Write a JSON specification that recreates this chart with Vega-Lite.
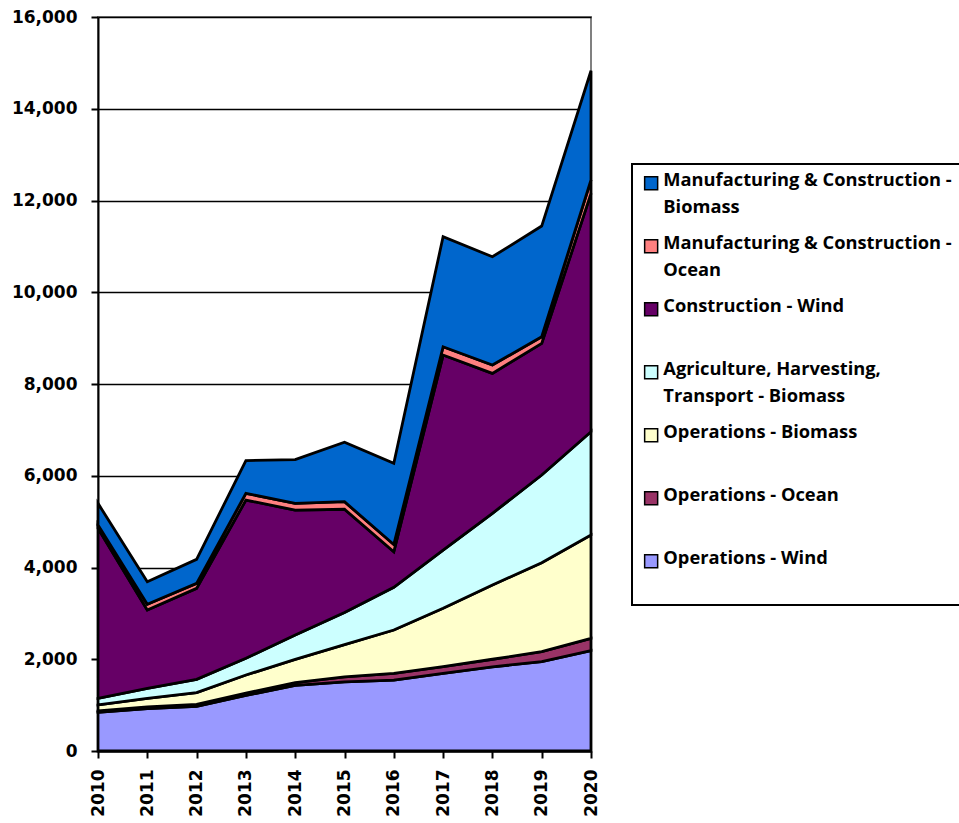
{
  "$schema": "https://vega.github.io/schema/vega-lite/v6.json",
  "autosize": "none",
  "width": 493,
  "height": 734,
  "padding": {"left": 98, "top": 17, "right": 368, "bottom": 72},
  "background": "white",
  "config": {
    "view": {"stroke": "#808080", "strokeWidth": 2},
    "axis": {
      "domainColor": "black", "domainWidth": 2, "tickColor": "black", "tickWidth": 2, "tickSize": 7,
      "gridColor": "black", "gridWidth": 1.5, "gridOpacity": 1,
      "labelFont": "DejaVu Sans", "labelFontWeight": "bold", "labelFontSize": 17, "labelColor": "black"
    }
  },
  "data": {"values": [
    {"year": 2010, "series": "Operations - Wind", "value": 843, "k": 1},
    {"year": 2011, "series": "Operations - Wind", "value": 925, "k": 1},
    {"year": 2012, "series": "Operations - Wind", "value": 975, "k": 1},
    {"year": 2013, "series": "Operations - Wind", "value": 1210, "k": 1},
    {"year": 2014, "series": "Operations - Wind", "value": 1430, "k": 1},
    {"year": 2015, "series": "Operations - Wind", "value": 1505, "k": 1},
    {"year": 2016, "series": "Operations - Wind", "value": 1545, "k": 1},
    {"year": 2017, "series": "Operations - Wind", "value": 1690, "k": 1},
    {"year": 2018, "series": "Operations - Wind", "value": 1835, "k": 1},
    {"year": 2019, "series": "Operations - Wind", "value": 1947, "k": 1},
    {"year": 2020, "series": "Operations - Wind", "value": 2190, "k": 1},
    {"year": 2010, "series": "Operations - Ocean", "value": 30, "k": 2},
    {"year": 2011, "series": "Operations - Ocean", "value": 35, "k": 2},
    {"year": 2012, "series": "Operations - Ocean", "value": 40, "k": 2},
    {"year": 2013, "series": "Operations - Ocean", "value": 50, "k": 2},
    {"year": 2014, "series": "Operations - Ocean", "value": 60, "k": 2},
    {"year": 2015, "series": "Operations - Ocean", "value": 110, "k": 2},
    {"year": 2016, "series": "Operations - Ocean", "value": 148, "k": 2},
    {"year": 2017, "series": "Operations - Ocean", "value": 150, "k": 2},
    {"year": 2018, "series": "Operations - Ocean", "value": 165, "k": 2},
    {"year": 2019, "series": "Operations - Ocean", "value": 218, "k": 2},
    {"year": 2020, "series": "Operations - Ocean", "value": 266, "k": 2},
    {"year": 2010, "series": "Operations - Biomass", "value": 130, "k": 3},
    {"year": 2011, "series": "Operations - Biomass", "value": 188, "k": 3},
    {"year": 2012, "series": "Operations - Biomass", "value": 257, "k": 3},
    {"year": 2013, "series": "Operations - Biomass", "value": 396, "k": 3},
    {"year": 2014, "series": "Operations - Biomass", "value": 508, "k": 3},
    {"year": 2015, "series": "Operations - Biomass", "value": 705, "k": 3},
    {"year": 2016, "series": "Operations - Biomass", "value": 944, "k": 3},
    {"year": 2017, "series": "Operations - Biomass", "value": 1270, "k": 3},
    {"year": 2018, "series": "Operations - Biomass", "value": 1618, "k": 3},
    {"year": 2019, "series": "Operations - Biomass", "value": 1940, "k": 3},
    {"year": 2020, "series": "Operations - Biomass", "value": 2252, "k": 3},
    {"year": 2010, "series": "Agriculture, Harvesting, Transport - Biomass", "value": 145, "k": 4},
    {"year": 2011, "series": "Agriculture, Harvesting, Transport - Biomass", "value": 218, "k": 4},
    {"year": 2012, "series": "Agriculture, Harvesting, Transport - Biomass", "value": 290, "k": 4},
    {"year": 2013, "series": "Agriculture, Harvesting, Transport - Biomass", "value": 364, "k": 4},
    {"year": 2014, "series": "Agriculture, Harvesting, Transport - Biomass", "value": 530, "k": 4},
    {"year": 2015, "series": "Agriculture, Harvesting, Transport - Biomass", "value": 700, "k": 4},
    {"year": 2016, "series": "Agriculture, Harvesting, Transport - Biomass", "value": 931, "k": 4},
    {"year": 2017, "series": "Agriculture, Harvesting, Transport - Biomass", "value": 1271, "k": 4},
    {"year": 2018, "series": "Agriculture, Harvesting, Transport - Biomass", "value": 1563, "k": 4},
    {"year": 2019, "series": "Agriculture, Harvesting, Transport - Biomass", "value": 1911, "k": 4},
    {"year": 2020, "series": "Agriculture, Harvesting, Transport - Biomass", "value": 2252, "k": 4},
    {"year": 2010, "series": "Construction - Wind", "value": 3705, "k": 5},
    {"year": 2011, "series": "Construction - Wind", "value": 1707, "k": 5},
    {"year": 2012, "series": "Construction - Wind", "value": 1984, "k": 5},
    {"year": 2013, "series": "Construction - Wind", "value": 3451, "k": 5},
    {"year": 2014, "series": "Construction - Wind", "value": 2722, "k": 5},
    {"year": 2015, "series": "Construction - Wind", "value": 2250, "k": 5},
    {"year": 2016, "series": "Construction - Wind", "value": 776, "k": 5},
    {"year": 2017, "series": "Construction - Wind", "value": 4250, "k": 5},
    {"year": 2018, "series": "Construction - Wind", "value": 3050, "k": 5},
    {"year": 2019, "series": "Construction - Wind", "value": 2869, "k": 5},
    {"year": 2020, "series": "Construction - Wind", "value": 5194, "k": 5},
    {"year": 2010, "series": "Manufacturing & Construction - Ocean", "value": 73, "k": 6},
    {"year": 2011, "series": "Manufacturing & Construction - Ocean", "value": 127, "k": 6},
    {"year": 2012, "series": "Manufacturing & Construction - Ocean", "value": 108, "k": 6},
    {"year": 2013, "series": "Manufacturing & Construction - Ocean", "value": 145, "k": 6},
    {"year": 2014, "series": "Manufacturing & Construction - Ocean", "value": 150, "k": 6},
    {"year": 2015, "series": "Manufacturing & Construction - Ocean", "value": 164, "k": 6},
    {"year": 2016, "series": "Manufacturing & Construction - Ocean", "value": 156, "k": 6},
    {"year": 2017, "series": "Manufacturing & Construction - Ocean", "value": 181, "k": 6},
    {"year": 2018, "series": "Manufacturing & Construction - Ocean", "value": 182, "k": 6},
    {"year": 2019, "series": "Manufacturing & Construction - Ocean", "value": 145, "k": 6},
    {"year": 2020, "series": "Manufacturing & Construction - Ocean", "value": 292, "k": 6},
    {"year": 2010, "series": "Manufacturing & Construction - Biomass", "value": 472, "k": 7},
    {"year": 2011, "series": "Manufacturing & Construction - Biomass", "value": 490, "k": 7},
    {"year": 2012, "series": "Manufacturing & Construction - Biomass", "value": 524, "k": 7},
    {"year": 2013, "series": "Manufacturing & Construction - Biomass", "value": 714, "k": 7},
    {"year": 2014, "series": "Manufacturing & Construction - Biomass", "value": 950, "k": 7},
    {"year": 2015, "series": "Manufacturing & Construction - Biomass", "value": 1296, "k": 7},
    {"year": 2016, "series": "Manufacturing & Construction - Biomass", "value": 1770, "k": 7},
    {"year": 2017, "series": "Manufacturing & Construction - Biomass", "value": 2398, "k": 7},
    {"year": 2018, "series": "Manufacturing & Construction - Biomass", "value": 2361, "k": 7},
    {"year": 2019, "series": "Manufacturing & Construction - Biomass", "value": 2413, "k": 7},
    {"year": 2020, "series": "Manufacturing & Construction - Biomass", "value": 2382, "k": 7}
  ]},
  "mark": {"type": "area", "stroke": "black", "strokeWidth": 2.8, "opacity": 1, "fillOpacity": 1, "strokeJoin": "miter"},
  "encoding": {
    "x": {
      "field": "year", "type": "quantitative",
      "scale": {"domain": [2010, 2020], "nice": false, "zero": false},
      "axis": {"title": null, "values": [2010,2011,2012,2013,2014,2015,2016,2017,2018,2019,2020], "format": "d", "labelAngle": -90, "grid": false, "labelPadding": 11, "labelAlign": "right", "labelBaseline": "middle"}
    },
    "y": {
      "field": "value", "type": "quantitative", "aggregate": "sum", "stack": "zero",
      "scale": {"domain": [0, 16000], "nice": false},
      "axis": {"title": null, "values": [0,2000,4000,6000,8000,10000,12000,14000,16000], "format": ",.0f", "labelPadding": 14}
    },
    "order": {"field": "k", "type": "quantitative", "sort": "ascending"},
    "color": {
      "field": "series", "type": "nominal",
      "scale": {
        "domain": ["Manufacturing & Construction - Biomass", "Manufacturing & Construction - Ocean", "Construction - Wind", "Agriculture, Harvesting, Transport - Biomass", "Operations - Biomass", "Operations - Ocean", "Operations - Wind"],
        "range": ["#0066CC", "#FF8080", "#660066", "#CCFFFF", "#FFFFCC", "#993366", "#9999FF"]
      },
      "legend": {
        "title": null, "orient": "none", "legendX": 534, "legendY": 147, "direction": "vertical",
        "symbolType": "square", "symbolSize": 169, "symbolStrokeColor": "black", "symbolStrokeWidth": 1.5, "symbolOpacity": 1,
        "labelFont": "Open Sans", "labelFontSize": 18.3, "labelFontWeight": "bold", "labelColor": "black", "labelLimit": 400,
        "labelOffset": 3, "labelBaseline": "top", "strokeColor": "black", "fillColor": "white", "padding": 10, "rowPadding": 17,
        "labelExpr": "datum.label == 'Manufacturing & Construction - Biomass' ? ['Manufacturing & Construction -', 'Biomass'] : datum.label == 'Manufacturing & Construction - Ocean' ? ['Manufacturing & Construction -', 'Ocean'] : datum.label == 'Agriculture, Harvesting, Transport - Biomass' ? ['Agriculture, Harvesting,', 'Transport - Biomass'] : [datum.label, ' ']",
        "encoding": {"labels": {"dy": {"value": -11}, "lineHeight": {"value": 27}}, "legend": {"strokeWidth": {"value": 2}}}
      }
    }
  }
}
